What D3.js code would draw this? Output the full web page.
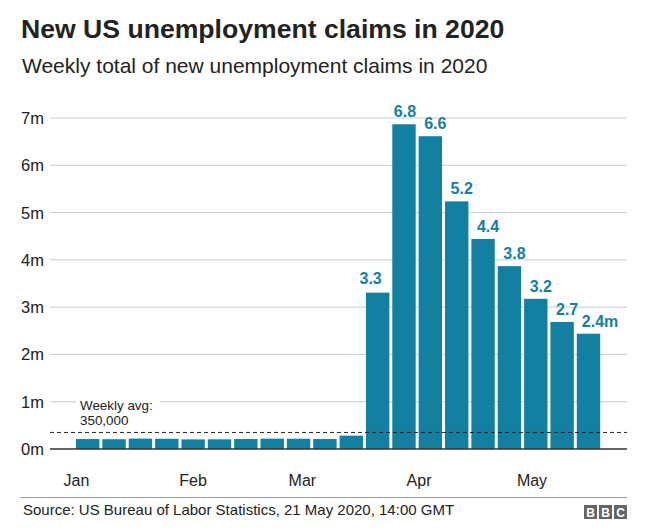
<!DOCTYPE html>
<html>
<head>
<meta charset="utf-8">
<script src="https://cdn.jsdelivr.net/npm/d3@7"></script>
<style>
  body { margin: 0; background: #fff; }
  svg { display: block; font-family: "Liberation Sans", Arial, Helvetica, sans-serif; }
</style>
</head>
<body>
<svg id="chart" width="648" height="529"></svg>
<script>
// ---- data ----
const weekEnding = ["2020-01-04","2020-01-11","2020-01-18","2020-01-25","2020-02-01","2020-02-08",
  "2020-02-15","2020-02-22","2020-02-29","2020-03-07","2020-03-14","2020-03-21","2020-03-28",
  "2020-04-04","2020-04-11","2020-04-18","2020-04-25","2020-05-02","2020-05-09","2020-05-16"];
const claims = [0.211, 0.207, 0.220, 0.216, 0.203, 0.205, 0.211, 0.219, 0.217, 0.211, 0.282,
  3.307, 6.867, 6.615, 5.237, 4.442, 3.867, 3.176, 2.687, 2.438]; // millions
const valueLabels = ["","","","","","","","","","","","3.3","6.8","6.6","5.2","4.4","3.8","3.2","2.7","2.4m"];
const yTicks = [0,1,2,3,4,5,6,7];
const yTickLabels = ["0m","1m","2m","3m","4m","5m","6m","7m"];
const monthTicks = ["2020-01-01","2020-02-01","2020-03-01","2020-04-01","2020-05-01"];
const monthLabels = ["Jan","Feb","Mar","Apr","May"];
const weeklyAvg = 0.35;

// ---- layout ----
const svg = d3.select("#chart");
const parse = d3.utcParse("%Y-%m-%d");
const dates = weekEnding.map(parse);
const left = 50, right = 627;
const barW = 23.4;
const x = d3.scaleUtc()
  .domain([dates[0], dates[dates.length - 1]])
  .range([87.7, 588.5]);
const y = d3.scaleLinear().domain([0, 7]).range([449, 118]);
const blue = "#1380A1";
const ink = "#222222";

// title
svg.append("text").attr("x", 21).attr("y", 38)
  .attr("font-size", 26.6).attr("font-weight", "bold").attr("fill", ink)
  .text("New US unemployment claims in 2020");
svg.append("text").attr("x", 22).attr("y", 73)
  .attr("font-size", 21).attr("fill", ink)
  .text("Weekly total of new unemployment claims in 2020");

// gridlines + y labels
const yAxis = svg.append("g");
yAxis.selectAll("line").data(yTicks.filter(d => d > 0)).join("line")
  .attr("x1", left).attr("x2", right)
  .attr("y1", d => y(d)).attr("y2", d => y(d))
  .attr("stroke", "#cbcbcb").attr("stroke-width", 1);
yAxis.selectAll("text").data(yTicks).join("text")
  .attr("x", 44).attr("y", d => y(d)).attr("dy", "0.36em")
  .attr("text-anchor", "end").attr("font-size", 16.5).attr("fill", ink)
  .text((d, i) => yTickLabels[i]);

// weekly avg label box
svg.append("rect").attr("x", 76).attr("y", 394).attr("width", 84).attr("height", 32).attr("fill", "#fff");
svg.append("text").attr("x", 80).attr("y", 410).attr("font-size", 13.4).attr("fill", ink).text("Weekly avg:");
svg.append("text").attr("x", 80).attr("y", 425).attr("font-size", 13.4).attr("fill", ink).text("350,000");

// bars
svg.append("g").selectAll("rect").data(claims).join("rect")
  .attr("x", (d, i) => x(dates[i]) - barW / 2)
  .attr("width", barW)
  .attr("y", d => y(d))
  .attr("height", d => y(0) - y(d))
  .attr("fill", blue);

// value labels
const labelDx = [0,0,0,0,0,0,0,0,0,0,0,-7,1,5,5,5,5,5,5,0];
svg.append("g").selectAll("text").data(claims).join("text")
  .attr("x", (d, i) => i === claims.length - 1 ? x(dates[i]) - barW / 2 + 5 : x(dates[i]) + labelDx[i])
  .attr("y", (d, i) => y(d) - (i === 11 ? 9 : 7))
  .attr("text-anchor", (d, i) => i === claims.length - 1 ? "start" : "middle")
  .attr("font-size", 16).attr("font-weight", "bold").attr("fill", blue)
  .text((d, i) => valueLabels[i]);

// dashed avg line
svg.append("line").attr("x1", left).attr("x2", right)
  .attr("y1", y(weeklyAvg)).attr("y2", y(weeklyAvg))
  .attr("stroke", ink).attr("stroke-width", 1).attr("stroke-dasharray", "4,3");

// baseline
svg.append("line").attr("x1", left).attr("x2", right)
  .attr("y1", y(0)).attr("y2", y(0))
  .attr("stroke", "#333").attr("stroke-width", 1.5);

// month labels
svg.append("g").selectAll("text").data(monthTicks.map(parse)).join("text")
  .attr("x", d => x(d)).attr("y", 486)
  .attr("text-anchor", "middle").attr("font-size", 16).attr("fill", ink)
  .text((d, i) => monthLabels[i]);

// footer
svg.append("line").attr("x1", 20).attr("x2", right).attr("y1", 497.5).attr("y2", 497.5)
  .attr("stroke", "#999").attr("stroke-width", 1);
svg.append("text").attr("x", 23).attr("y", 515).attr("font-size", 15).attr("fill", ink)
  .text("Source: US Bureau of Labor Statistics, 21 May 2020, 14:00 GMT");

// BBC logo
const logo = svg.append("g").attr("transform", "translate(584,505)");
["B","B","C"].forEach((ch, i) => {
  logo.append("rect").attr("x", i * 15).attr("y", 0).attr("width", 13).attr("height", 14).attr("fill", "#666");
  logo.append("text").attr("x", i * 15 + 6.5).attr("y", 11.5).attr("text-anchor", "middle")
    .attr("font-size", 12).attr("font-weight", "bold").attr("fill", "#fff").text(ch);
});
</script>
</body>
</html>
